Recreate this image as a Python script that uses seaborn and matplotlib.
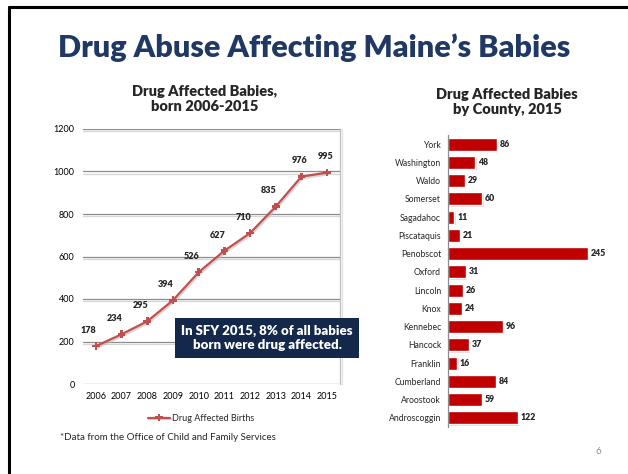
import matplotlib
matplotlib.use("Agg")
import matplotlib.pyplot as plt
import matplotlib.patheffects as pe
import pandas as pd
import seaborn as sns

# -----------------------------
# Data
# -----------------------------
years = ["2006", "2007", "2008", "2009", "2010", "2011", "2012", "2013", "2014", "2015"]
births = [178, 234, 295, 394, 526, 627, 710, 835, 976, 995]

counties = ["York", "Washington", "Waldo", "Somerset", "Sagadahoc", "Piscataquis",
            "Penobscot", "Oxford", "Lincoln", "Knox", "Kennebec", "Hancock",
            "Franklin", "Cumberland", "Aroostook", "Androscoggin"]
county_counts = [86, 48, 29, 60, 11, 21, 245, 31, 26, 24, 96, 37, 16, 84, 59, 122]

line_df = pd.DataFrame({"year": years, "births": births})
bar_df = pd.DataFrame({"county": counties, "count": county_counts})

# -----------------------------
# Style
# -----------------------------
sns.set_theme(style="white")
plt.rcParams["font.family"] = ["Lato", "DejaVu Sans"]

W, H = 628, 474
fig = plt.figure(figsize=(W / 100, H / 100), dpi=100)
fig.patch.set_facecolor("white")


def fx(px):
    return px / W


def fy(py):
    return 1 - py / H


# slide frame (top and left edges)
fig.add_artist(plt.Line2D([fx(9), 1], [fy(7), fy(7)], color="black", lw=2.2))
fig.add_artist(plt.Line2D([fx(9), fx(9)], [fy(7), 0], color="black", lw=2.2))

fig.text(0.5, fy(48), "Drug Abuse Affecting Maine\u2019s Babies", ha="center", va="center",
         fontsize=22, fontweight="heavy", color="#1F3864")

# -----------------------------
# Left: line chart
# -----------------------------
ax1 = fig.add_axes([fx(83), fy(384), fx(340) - fx(83), fy(129) - fy(384)])
shadow = [pe.SimpleLineShadow(offset=(0.8, -1.2), shadow_color="#bbbbbb", alpha=0.6), pe.Normal()]
sns.lineplot(data=line_df, x="year", y="births", ax=ax1, color="#C0504D", lw=1.6,
             marker="P", markersize=5.5, markeredgewidth=0, label="Drug Affected Births",
             path_effects=shadow)
ax1.set_ylim(0, 1200)
ax1.set_xlim(-0.5, len(years) - 0.5)
ax1.set_yticks(range(0, 1201, 200))
grid_fx = [pe.SimpleLineShadow(offset=(0, -1.5), shadow_color="#cccccc", alpha=0.8), pe.Normal()]
for yv in range(0, 1201, 200):
    ax1.axhline(yv, color="#8c8c8c", lw=0.9, zorder=0, path_effects=grid_fx)
for s in ["top", "left", "bottom"]:
    ax1.spines[s].set_visible(False)
ax1.spines["right"].set_color("#bfbfbf")
ax1.spines["right"].set_linewidth(0.9)
ax1.spines["right"].set_path_effects([pe.SimpleLineShadow(offset=(1.2, 0), shadow_color="#dddddd", alpha=0.8),
                                      pe.Normal()])
ax1.set_xlabel("")
ax1.set_ylabel("")
ax1.tick_params(axis="both", labelsize=6.5, length=0, colors="#000000", pad=6)
for i, v in enumerate(births):
    dx = -5 if i < 8 else -1
    ax1.annotate(str(v), (i, v), xytext=(dx, 8), textcoords="offset points",
                 ha="center", va="bottom", fontsize=6.5, fontweight="heavy")
ax1.legend(loc="upper center", bbox_to_anchor=(0.46, -0.085), frameon=False,
           fontsize=6.5, handlelength=2.5, handletextpad=0.2)

fig.text(fx(205), fy(99), "Drug Affected Babies,\nborn 2006-2015", ha="center", va="center",
         fontsize=10.5, fontweight="heavy", linespacing=1.2)

# callout box
fig.text(fx(267), fy(338), "In SFY 2015, 8% of all babies\nborn were drug affected.",
         ha="center", va="center", fontsize=9.5, fontweight="heavy", color="white",
         linespacing=1.25,
         bbox=dict(boxstyle="square,pad=0.5", fc="#13284A", ec="none"))

fig.text(fx(60), fy(437), "*Data from the Office of Child and Family Services",
         ha="left", va="center", fontsize=7)
fig.text(fx(598), fy(452), "6", ha="center", va="center", fontsize=7, color="#8c8c8c")

# -----------------------------
# Right: bar chart
# -----------------------------
ax2 = fig.add_axes([fx(448), fy(427), fx(602) - fx(448), fy(135) - fy(427)])
sns.barplot(data=bar_df, x="count", y="county", ax=ax2, color="#C00000", width=0.7,
            saturation=1, orient="h")
for p in ax2.patches:
    p.set_path_effects([pe.SimplePatchShadow(offset=(1, -1), shadow_rgbFace="#aaaaaa", alpha=0.4),
                        pe.Normal()])
ax2.set_xlim(0, 270)
ax2.set_xticks([])
ax2.set_xlabel("")
ax2.set_ylabel("")
for s in ["top", "right", "bottom"]:
    ax2.spines[s].set_visible(False)
ax2.spines["left"].set_color("#8c8c8c")
ax2.spines["left"].set_linewidth(0.9)
ax2.tick_params(axis="y", labelsize=6.2, length=0, pad=5)
for i, v in enumerate(county_counts):
    ax2.text(v + 5, i, str(v), ha="left", va="center", fontsize=6.3, fontweight="heavy")

fig.text(fx(507), fy(102), "Drug Affected Babies\nby County, 2015", ha="center", va="center",
         fontsize=10.5, fontweight="heavy", linespacing=1.2)

fig.savefig("out.png", dpi=100)
